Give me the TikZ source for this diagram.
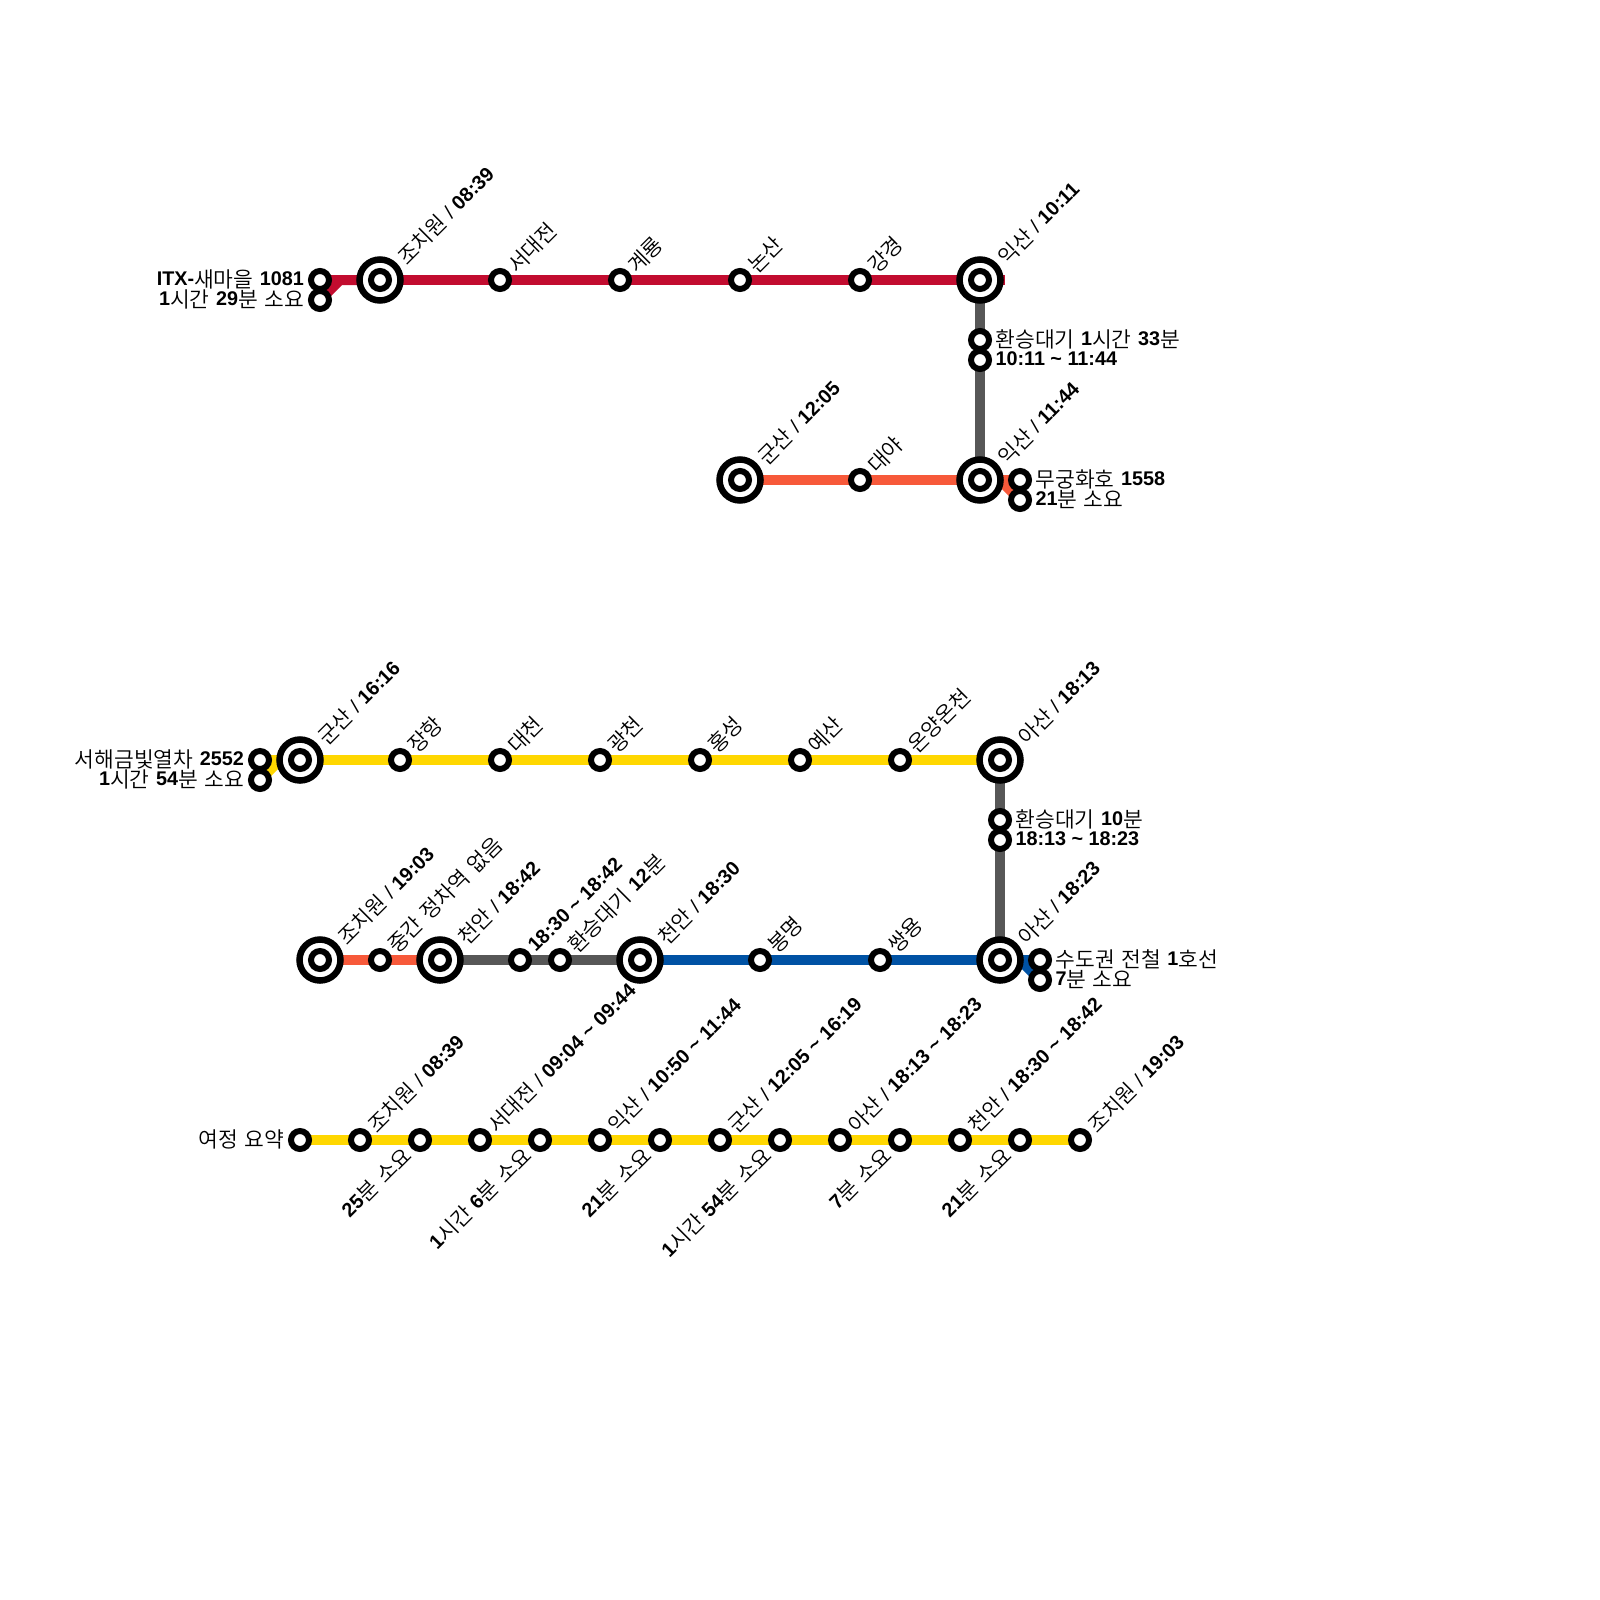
\documentclass[tikz,border=0pt]{standalone}
\usepackage{fontspec}
\setmainfont{Noto Sans CJK KR DemiLight}[WordSpace=1.35]
\newfontfamily\latf[Scale=0.92]{Liberation Sans}
\newcommand\tB[1]{\raisebox{1.5pt}{\latf\bfseries #1}}
\newcommand\tS{\hspace{5.5pt}\raisebox{1.5pt}{\latf /}\hspace{5.5pt}}
\usetikzlibrary{backgrounds}
\definecolor{cred}{HTML}{C20C2F}
\definecolor{corange}{HTML}{F7593A}
\definecolor{cgrey}{HTML}{575757}
\definecolor{cyellow}{HTML}{FFD700}
\definecolor{cblue}{HTML}{0052A4}
\tikzset{
  stn/.style={circle,draw=black,fill=white,line width=6pt,minimum size=18pt,inner sep=0pt,outer sep=0pt},
  bigstn/.style={circle,draw=black,fill=white,line width=6.5pt,minimum size=41pt,inner sep=0pt,outer sep=0pt},
  lab/.style={inner sep=0pt,outer sep=0pt,font=\fontsize{21.5}{24}\selectfont,text=black},
  uplab/.style={lab,rotate=45,anchor=base west},
  dnlab/.style={lab,rotate=45,anchor=base east},
  rlab/.style={lab,anchor=base west},
  llab/.style={lab,anchor=base east},
  track/.style={line width=10pt,line cap=butt,line join=miter}
}
\newcommand\stA[3]{\node[stn] (#1) at (#2,#3) {};}
\newcommand\stB[3]{\node[bigstn] (#1) at (#2,#3) {}; \node[stn] (#1-i) at (#1) {};}
\newcommand\lU[2]{\node[uplab] (#1-lab) at ([shift={(17,-6)}]#1) {#2};}
\newcommand\lBU[2]{\node[uplab] (#1-lab) at ([shift={(27,-14)}]#1) {#2};}
\newcommand\lD[2]{\node[dnlab] (#1-lab) at ([shift={(-7,17)}]#1) {#2};}
\newcommand\lR[2]{\node[rlab] (#1-lab) at ([shift={(15.5,7)}]#1) {#2};}
\newcommand\lL[2]{\node[llab] (#1-lab) at ([shift={(-16,7)}]#1) {#2};}
\begin{document}
\begin{tikzpicture}[x=1pt,y=-1pt]
\path[use as bounding box] (0,0) rectangle (1600,1600);
% --- first leg
\stA{a}{320}{280}\stA{b}{320}{300}\stB{c}{380}{280}\stA{d}{500}{280}\stA{e}{620}{280}\stA{f}{740}{280}\stA{g}{860}{280}\stB{h}{980}{280}
\coordinate (ha) at (340,280);
\coordinate (hb) at (1005,280);
\stA{i}{980}{340}\stA{j}{980}{360}\stB{k}{980}{480}
\stA{l}{1020}{480}\stA{m}{1020}{500}\stA{n}{860}{480}\stB{o}{740}{480}
\coordinate (kb) at (1000,480);
% --- second leg
\stA{p}{260}{760}\stA{q}{260}{780}\stB{r}{300}{760}\stA{s}{400}{760}\stA{t}{500}{760}\stA{u}{600}{760}\stA{v}{700}{760}\stA{w}{800}{760}\stA{x}{900}{760}\stB{y}{1000}{760}
\coordinate (ra) at (280,760);
\stA{z}{1000}{820}\stA{aa}{1000}{840}\stB{ab}{1000}{960}
\stA{ac}{1040}{960}\stA{ad}{1040}{980}\stA{ae}{880}{960}\stA{af}{760}{960}\stB{ag}{640}{960}
\coordinate (abb) at (1020,960);
\stA{ah}{560}{960}\stA{ai}{520}{960}\stB{aj}{440}{960}\stA{ak}{380}{960}\stB{al}{320}{960}
% --- summary
\stA{s1}{300}{1140}\stA{s2}{360}{1140}\stA{s3}{420}{1140}\stA{s4}{480}{1140}\stA{s5}{540}{1140}\stA{s6}{600}{1140}\stA{s7}{660}{1140}\stA{s8}{720}{1140}\stA{s9}{780}{1140}\stA{s10}{840}{1140}\stA{s11}{900}{1140}\stA{s12}{960}{1140}\stA{s13}{1020}{1140}\stA{s14}{1080}{1140}
% --- tracks
\begin{scope}[on background layer]
\draw[track,cred] (b.center) -- (ha) -- (c.center);
\draw[track,cred] (a.center) -- (hb);
\draw[track,cgrey] (h.center) -- (k.center);
\draw[track,corange] (o.center) -- (l.center);
\draw[track,corange] (m.center) -- (kb) -- (k.center);
\draw[track,cyellow] (q.center) -- (ra) -- (r.center);
\draw[track,cyellow] (p.center) -- (y.center);
\draw[track,cgrey] (y.center) -- (ab.center);
\draw[track,cblue] (ag.center) -- (ac.center);
\draw[track,cblue] (ad.center) -- (abb) -- (ab.center);
\draw[track,cgrey] (aj.center) -- (ag.center);
\draw[track,corange] (al.center) -- (aj.center);
\draw[track,cyellow] (s1.center) -- (s14.center);
\end{scope}
% --- labels
\lL{a}{\tB{ITX-}새마을 \tB{1081}}
\lL{b}{\tB{1}시간 \tB{29}분 소요}
\lBU{c}{조치원\tS\tB{08:39}}
\lU{d}{서대전}\lU{e}{계룡}\lU{f}{논산}\lU{g}{강경}
\lBU{h}{익산\tS\tB{10:11}}
\lR{i}{환승대기 \tB{1}시간 \tB{33}분}
\lR{j}{\tB{10:11 \textasciitilde\ 11:44}}
\lBU{k}{익산\tS\tB{11:44}}
\lR{l}{무궁화호 \tB{1558}}
\lR{m}{\tB{21}분 소요}
\lU{n}{대야}
\lBU{o}{군산\tS\tB{12:05}}
\lL{p}{서해금빛열차 \tB{2552}}
\lL{q}{\tB{1}시간 \tB{54}분 소요}
\lBU{r}{군산\tS\tB{16:16}}
\lU{s}{장항}\lU{t}{대천}\lU{u}{광천}\lU{v}{홍성}\lU{w}{예산}\lU{x}{온양온천}
\lBU{y}{아산\tS\tB{18:13}}
\lR{z}{환승대기 \tB{10}분}
\lR{aa}{\tB{18:13 \textasciitilde\ 18:23}}
\lBU{ab}{아산\tS\tB{18:23}}
\lR{ac}{수도권 전철 \tB{1}호선}
\lR{ad}{\tB{7}분 소요}
\lU{ae}{쌍용}\lU{af}{봉명}
\lBU{ag}{천안\tS\tB{18:30}}
\lU{ah}{환승대기 \tB{12}분}
\lU{ai}{\tB{18:30 \textasciitilde\ 18:42}}
\lBU{aj}{천안\tS\tB{18:42}}
\lU{ak}{중간 정차역 없음}
\lBU{al}{조치원\tS\tB{19:03}}
\lL{s1}{여정 요약}
\lU{s2}{조치원\tS\tB{08:39}}
\lD{s3}{\tB{25}분 소요}
\lU{s4}{서대전\tS\tB{09:04 \textasciitilde\ 09:44}}
\lD{s5}{\tB{1}시간 \tB{6}분 소요}
\lU{s6}{익산\tS\tB{10:50 \textasciitilde\ 11:44}}
\lD{s7}{\tB{21}분 소요}
\lU{s8}{군산\tS\tB{12:05 \textasciitilde\ 16:19}}
\lD{s9}{\tB{1}시간 \tB{54}분 소요}
\lU{s10}{아산\tS\tB{18:13 \textasciitilde\ 18:23}}
\lD{s11}{\tB{7}분 소요}
\lU{s12}{천안\tS\tB{18:30 \textasciitilde\ 18:42}}
\lD{s13}{\tB{21}분 소요}
\lU{s14}{조치원\tS\tB{19:03}}
\end{tikzpicture}
\end{document}
